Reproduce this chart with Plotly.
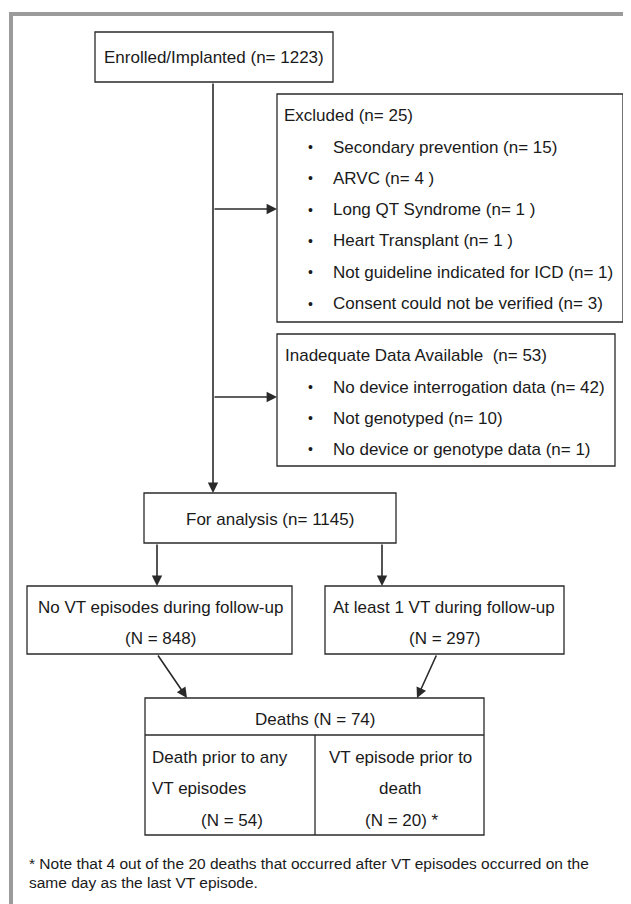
import plotly.graph_objects as go

# ---------------- data ----------------
enrolled_n = 1223
excluded_n = 25
excluded_reasons = ["Secondary prevention", "ARVC", "Long QT Syndrome", "Heart Transplant",
                    "Not guideline indicated for ICD", "Consent could not be verified"]
excluded_counts = ["15", "4 ", "1 ", "1 ", "1", "3"]
inadequate_n = 53
inadequate_reasons = ["No device interrogation data", "Not genotyped", "No device or genotype data"]
inadequate_counts = ["42", "10", "1"]
analysis_n = 1145
no_vt_n = 848
vt_n = 297
deaths_n = 74
death_prior_n = 54
vt_prior_n = 20
footnote_lines = ["* Note that 4 out of the 20 deaths that occurred after VT episodes occurred on the",
                  "same day as the last VT episode."]

# ---------------- layout / style ----------------
W, H = 631, 904
PAGE_OFF = 8  # browser body margin
FONT = "Liberation Sans, Arial, sans-serif"
TXT = "#1a1a1a"
LINE = "#2a2a2a"
FS = 17

fig = go.Figure()
shapes = []
ann = []

def box(x0, y0, x1, y1):
    shapes.append(dict(type="rect", x0=x0, y0=y0, x1=x1, y1=y1, xref="x", yref="y",
                       line=dict(color=LINE, width=1.3), fillcolor="rgba(0,0,0,0)"))

def line(x0, y0, x1, y1, color=LINE, width=1.6):
    shapes.append(dict(type="line", x0=x0, y0=y0, x1=x1, y1=y1, xref="x", yref="y",
                       line=dict(color=color, width=width)))

def text(x, y, s, anchor="center", size=FS):
    ann.append(dict(x=x, y=y, xref="x", yref="y", text=s, showarrow=False,
                    xanchor=anchor, yanchor="middle",
                    font=dict(family=FONT, size=size, color=TXT)))

def arrow(x0, y0, x1, y1):
    ann.append(dict(x=x1, y=y1, ax=x0, ay=y0, xref="x", yref="y", axref="x", ayref="y",
                    text="", showarrow=True, arrowhead=2, arrowsize=1.3, arrowwidth=1.6,
                    arrowcolor=LINE, standoff=0, startstandoff=0))

# outer grey frame
shapes.append(dict(type="path", path=f"M 11 {H+20} L 11 14 L {W+20} 14", xref="x", yref="y",
                   line=dict(color="#9b9b9b", width=4)))

# Enrolled
box(95, 32, 333, 82)
text(214, 57, f"Enrolled/Implanted (n= {enrolled_n})")

# main vertical
arrow(213, 82, 213, 493)

# Excluded
box(277, 94, 623, 322)
arrow(213, 209, 277, 209)
text(282, 115, f"Excluded (n= {excluded_n})", anchor="left")
for i, (r, c) in enumerate(zip(excluded_reasons, excluded_counts)):
    y = 147 + i * 31.3
    text(310, y, "•", size=14)
    text(331, y, f"{r} (n= {c})", anchor="left")

# Inadequate
box(277, 334, 615, 466)
arrow(213, 397, 277, 397)
text(283, 355, f"Inadequate Data Available\u00a0\u00a0(n= {inadequate_n})", anchor="left")
for i, (r, c) in enumerate(zip(inadequate_reasons, inadequate_counts)):
    y = 387 + i * 31
    text(310, y, "•", size=14)
    text(331, y, f"{r} (n= {c})", anchor="left")

# For analysis
box(144, 493, 396, 543)
text(270, 519, f"For analysis (n= {analysis_n})")
arrow(157, 543, 157, 586)
arrow(382, 543, 382, 586)

# VT split
box(27, 586, 292, 654)
text(160, 607, "No VT episodes during follow-up")
text(160, 638, f"(N = {no_vt_n})")
box(325, 586, 564, 654)
text(444, 607, "At least 1 VT during follow-up")
text(444, 638, f"(N = {vt_n})")

arrow(157, 654, 187, 698)
arrow(437, 654, 417, 698)

# Deaths table
box(145, 698, 484, 835)
line(145, 735, 484, 735, width=1.3)
line(315, 735, 315, 835, width=1.3)
text(314.5, 719, f"Deaths (N = {deaths_n})")
text(150, 757, "Death prior to any", anchor="left")
text(150, 788, "VT episodes", anchor="left")
text(232, 820, f"(N = {death_prior_n})")
text(400, 757, "VT episode prior to")
text(400, 788, "death")
text(402, 820, f"(N = {vt_prior_n}) *")

# footnote
for i, s in enumerate(footnote_lines):
    text(27, 863 + i * 19, s, anchor="left", size=15.5)

fig.update_layout(
    width=W, height=H, margin=dict(l=0, r=0, t=0, b=0),
    paper_bgcolor="white", plot_bgcolor="white",
    xaxis=dict(range=[PAGE_OFF, W + PAGE_OFF], visible=False, fixedrange=True),
    yaxis=dict(range=[H + PAGE_OFF, PAGE_OFF], visible=False, fixedrange=True),
    shapes=shapes, annotations=ann, showlegend=False,
)
fig.write_html("out.html")
